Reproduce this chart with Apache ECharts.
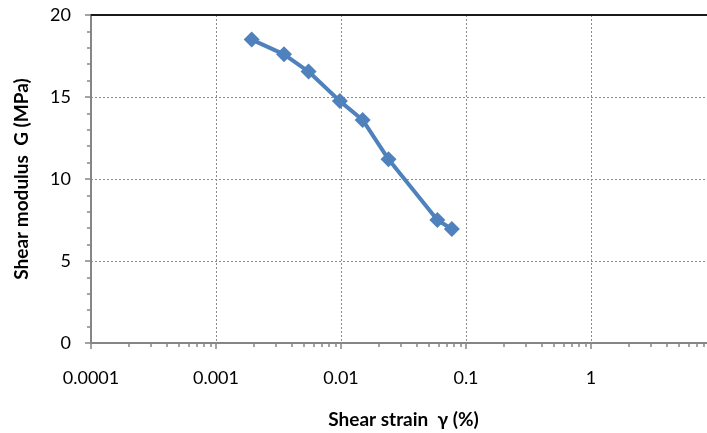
<!DOCTYPE html>
<html>
<head>
<meta charset="utf-8">
<style>
  html, body { margin: 0; padding: 0; background: #fff; }
  #chart { width: 707px; height: 433px; }
</style>
<script src="https://cdn.jsdelivr.net/npm/echarts@6/dist/echarts.min.js"></script>
</head>
<body>
<div id="chart"></div>
<script>
// Shear strain (%) and measured shear modulus (MPa)
const strain = [0.00193, 0.0035, 0.0055, 0.0098, 0.0149, 0.024, 0.059, 0.077];
const modulus = [18.5, 17.6, 16.55, 14.75, 13.6, 11.2, 7.5, 6.95];
const yTicks = [0, 5, 10, 15, 20];
const xDecades = [0.0001, 0.001, 0.01, 0.1, 1, 10];

// minor tick positions 2..9 within each decade
const xMinor = [];
for (let i = 0; i < xDecades.length - 1; i++) {
  for (let m = 2; m <= 9; m++) xMinor.push(+(xDecades[i] * m).toPrecision(3));
}

const FONT = 'Lato, "Open Sans", sans-serif';
const AXIS_GREY = '#868686';

const chart = echarts.init(document.getElementById('chart'), null, { renderer: 'canvas' });
chart.setOption({
  animation: false,
  backgroundColor: '#ffffff',
  grid: { left: 91, top: 15, width: 625, height: 328, containLabel: false, outerBoundsMode: 'none' },
  xAxis: [
    {
      type: 'log',
      logBase: 10,
      min: xDecades[0],
      max: xDecades[xDecades.length - 1],
      position: 'bottom',
      name: 'Shear strain  γ (%)',
      nameLocation: 'middle',
      nameGap: 67,
      nameTextStyle: { fontFamily: FONT, fontWeight: 'bold', fontSize: 19, color: '#000' },
      axisLine: { show: true, onZero: false, lineStyle: { color: AXIS_GREY, width: 2 } },
      axisTick: { show: true, length: 6, lineStyle: { color: AXIS_GREY, width: 1.5 } },
      axisLabel: {
        margin: 26, fontFamily: FONT, fontSize: 18, color: '#000',
        formatter: v => {
          const s = String(+v.toPrecision(6));
          return s === '10' ? '' : s;
        }
      },
      splitLine: { show: true, lineStyle: { color: '#8c8c8c', type: [2, 2], width: 1 } }
    },
    {
      // minor ticks of the log axis
      type: 'log',
      logBase: 10,
      min: xDecades[0],
      max: xDecades[xDecades.length - 1],
      position: 'bottom',
      axisLine: { show: false, onZero: false },
      axisTick: { show: true, length: 4, customValues: xMinor, lineStyle: { color: AXIS_GREY, width: 1.5 } },
      axisLabel: { show: false },
      splitLine: { show: false }
    },
    {
      // top frame line
      type: 'value',
      min: 0, max: 1,
      position: 'top',
      axisLine: { show: true, onZero: false, lineStyle: { color: '#1a1a1a', width: 2 } },
      axisTick: { show: false },
      axisLabel: { show: false },
      splitLine: { show: false }
    }
  ],
  yAxis: {
    type: 'value',
    min: yTicks[0],
    max: yTicks[yTicks.length - 1],
    interval: 5,
    name: 'Shear modulus  G (MPa)',
    nameLocation: 'middle',
    nameGap: 60,
    nameTextStyle: { fontFamily: FONT, fontWeight: 'bold', fontSize: 19, color: '#000' },
    axisLine: { show: true, onZero: false, lineStyle: { color: AXIS_GREY, width: 2 } },
    axisTick: { show: true, length: 6, lineStyle: { color: AXIS_GREY, width: 1.5 } },
    minorTick: { show: true, splitNumber: 5, length: 4, lineStyle: { color: AXIS_GREY, width: 1.5 } },
    axisLabel: { margin: 20, fontFamily: FONT, fontSize: 18, color: '#000' },
    splitLine: { show: true, lineStyle: { color: '#8c8c8c', type: [2, 2], width: 1 } }
  },
  series: [{
    type: 'line',
    xAxisIndex: 0,
    data: strain.map((s, i) => [s, modulus[i]]),
    symbol: 'diamond',
    symbolSize: 16,
    showAllSymbol: true,
    lineStyle: { color: '#4F81BD', width: 4 },
    itemStyle: { color: '#4F81BD' },
    z: 5
  }]
});
</script>
</body>
</html>
